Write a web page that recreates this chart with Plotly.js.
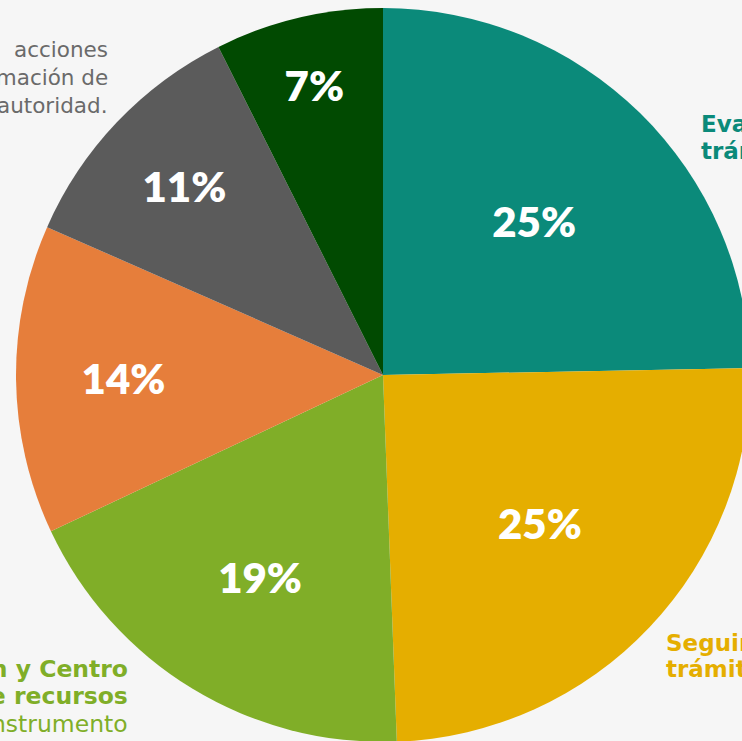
<!DOCTYPE html>
<html>
<head>
<meta charset="utf-8">
<script src="https://cdn.plot.ly/plotly-3.0.1.min.js"></script>
<style>
  html, body { margin: 0; padding: 0; overflow: hidden; background: #f6f6f6; }
  #chart { width: 800px; height: 800px; }
</style>
</head>
<body>
<div id="chart"></div>
<script>
// Slice data (clockwise from 12 o'clock)
const categories = ["Evaluación de trámites", "Seguimiento de trámites", "Coordinación y Centro de recursos", "Otros", "Acciones de la autoridad", "Varios"];
const values = [24.7, 24.7, 18.6, 13.6, 11.0, 7.4];
const colors = ["#0b8a7a", "#e5ae00", "#80ae28", "#e67e3b", "#5b5b5b", "#014a01"];

// Outside label fragments (cropped at the window edges)
const labelGray = ["acciones", "información de", "la autoridad."];
const labelTeal = ["Evaluación de", "trámites"];
const labelYellow = ["Seguimiento de", "trámites"];
const labelGreenBold = ["Coordinación y Centro", "de recursos"];
const labelGreenRegular = ["del instrumento"];

const W = 800, H = 800;
const px = x => x / W;
const py = y => 1 - y / H;

const trace = {
  type: "pie",
  labels: categories,
  values: values,
  sort: false,
  direction: "clockwise",
  rotation: 0,
  marker: { colors: colors, line: { width: 0 } },
  texttemplate: "%{percent:.0%}",
  textposition: "inside",
  insidetextorientation: "horizontal",
  textfont: { family: "Lato, 'Open Sans', sans-serif", size: 42, color: "#ffffff", weight: 800 },
  hoverinfo: "label+percent",
  domain: { x: [px(16), px(750)], y: [py(742), py(8)] },
  showlegend: false
};

const fontR = "'DejaVu Sans', sans-serif";
const annotations = [];
function addLines(lines, xPix, baselines, anchor, size, color, bold) {
  lines.forEach((s, i) => {
    annotations.push({
      xref: "paper", yref: "paper",
      x: px(xPix), y: py(baselines[i] - 0.346 * size),
      xanchor: anchor, yanchor: "middle", align: anchor,
      text: bold ? "<b>" + s + "</b>" : s,
      showarrow: false,
      font: { family: fontR, size: size, color: color }
    });
  });
}
addLines(labelGray, 110, [57, 85, 113], "right", 21.5, "#6a6a6a", false);
addLines(labelTeal, 699, [132, 159], "left", 23, "#0b8a7a", true);
addLines(labelYellow, 664, [651, 677], "left", 23, "#e5ae00", true);
addLines(labelGreenBold, 130, [677, 704], "right", 23.5, "#80ae28", true);
addLines(labelGreenRegular, 130, [732], "right", 23.5, "#80ae28", false);

const layout = {
  width: W, height: H,
  margin: { l: 0, r: 0, t: 0, b: 0 },
  paper_bgcolor: "#f6f6f6",
  plot_bgcolor: "#f6f6f6",
  showlegend: false,
  annotations: annotations
};

Plotly.newPlot("chart", [trace], layout, { displayModeBar: false, staticPlot: true });
</script>
</body>
</html>
